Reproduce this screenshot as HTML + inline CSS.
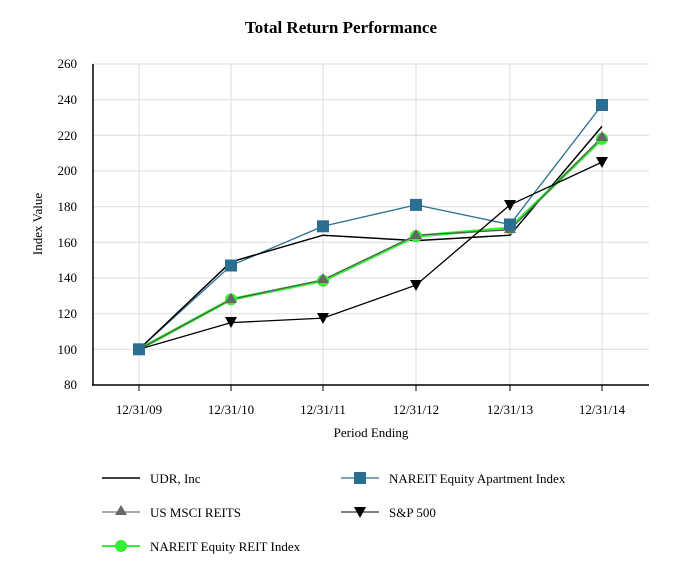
<!DOCTYPE html>
<html><head><meta charset="utf-8"><style>body{margin:0;background:#fff}svg{display:block}text{font-family:"Liberation Serif",serif}</style></head><body>
<svg width="682" height="581" viewBox="0 0 682 581">
<text x="341" y="33" text-anchor="middle" font-size="17" font-weight="bold">Total Return Performance</text>
<g stroke="#ddd" stroke-width="1">
<line x1="93" x2="649" y1="64" y2="64"/><line x1="93" x2="649" y1="99.7" y2="99.7"/><line x1="93" x2="649" y1="135.3" y2="135.3"/><line x1="93" x2="649" y1="171" y2="171"/><line x1="93" x2="649" y1="206.7" y2="206.7"/><line x1="93" x2="649" y1="242.3" y2="242.3"/><line x1="93" x2="649" y1="278" y2="278"/><line x1="93" x2="649" y1="313.7" y2="313.7"/><line x1="93" x2="649" y1="349.3" y2="349.3"/>
<line x1="139" x2="139" y1="64" y2="385"/><line x1="231" x2="231" y1="64" y2="385"/><line x1="323" x2="323" y1="64" y2="385"/><line x1="416" x2="416" y1="64" y2="385"/><line x1="510" x2="510" y1="64" y2="385"/><line x1="602" x2="602" y1="64" y2="385"/>
</g>
<g stroke="#000" stroke-width="1.5"><line x1="93" y1="64" x2="93" y2="385"/><line x1="92" y1="385" x2="649" y2="385"/></g>
<g stroke="#000"><line x1="139" x2="139" y1="385" y2="391"/><line x1="231" x2="231" y1="385" y2="391"/><line x1="323" x2="323" y1="385" y2="391"/><line x1="416" x2="416" y1="385" y2="391"/><line x1="510" x2="510" y1="385" y2="391"/><line x1="602" x2="602" y1="385" y2="391"/></g>
<g font-size="13" text-anchor="end">
<text x="77" y="68">260</text><text x="77" y="104">240</text><text x="77" y="140">220</text><text x="77" y="175">200</text><text x="77" y="211">180</text><text x="77" y="247">160</text><text x="77" y="282">140</text><text x="77" y="318">120</text><text x="77" y="354">100</text><text x="77" y="389">80</text>
</g>
<g font-size="13" text-anchor="middle">
<text x="139" y="414">12/31/09</text><text x="231" y="414">12/31/10</text><text x="323" y="414">12/31/11</text><text x="416" y="414">12/31/12</text><text x="510" y="414">12/31/13</text><text x="602" y="414">12/31/14</text>
<text x="371" y="437">Period Ending</text>
<text transform="translate(42,224) rotate(-90)">Index Value</text>
</g>
<polyline fill="none" stroke="#2a6f91" stroke-width="1.3" points="139,349.3 231,265.5 323,226.3 416,204.9 510,224.5 602,105"/>
<polyline fill="none" stroke="#000" stroke-width="1.5" points="139,349.3 231,261.9 323,235.2 416,240.6 510,235.2 602,126.4"/>
<polyline fill="none" stroke="#33ee33" stroke-width="3" points="139,349.3 231,299.4 323,280.7 416,236.1 510,228.1 602,138.9"/>
<polyline fill="none" stroke="#555" stroke-width="1.2" points="139,349.3 231,299.4 323,279.8 416,235.2 510,229.8 602,137.1"/>
<polyline fill="none" stroke="#000" stroke-width="1.3" points="139,349.3 231,322.6 323,318.1 416,285.1 510,204.9 602,162.1"/>
<g fill="#33ee33"><circle cx="231" cy="299.4" r="6"/><circle cx="323" cy="280.7" r="6"/><circle cx="416" cy="236.1" r="6"/><circle cx="510" cy="228.1" r="6"/><circle cx="602" cy="138.9" r="6"/></g>
<g fill="#666"><path d="M231,293 l6,10 h-12z"/><path d="M323,273 l6,10 h-12z"/><path d="M416,229 l6,10 h-12z"/><path d="M510,223 l6,10 h-12z"/><path d="M602,131 l6,10 h-12z"/></g>
<g fill="#000"><path d="M225,317 h12 l-6,11z"/><path d="M317,313 h12 l-6,11z"/><path d="M410,280 h12 l-6,11z"/><path d="M504,200 h12 l-6,11z"/><path d="M596,157 h12 l-6,11z"/></g>
<g fill="#2a6f91"><rect x="133" y="343.3" width="12" height="12"/><rect x="225" y="259.5" width="12" height="12"/><rect x="317" y="220.3" width="12" height="12"/><rect x="410" y="198.9" width="12" height="12"/><rect x="504" y="218.5" width="12" height="12"/><rect x="596" y="99" width="12" height="12"/></g>
<g font-size="13">
<line x1="102" x2="140" y1="478" y2="478" stroke="#000" stroke-width="1.5"/><text x="150" y="483">UDR, Inc</text>
<line x1="341" x2="379" y1="478" y2="478" stroke="#2a6f91" stroke-width="1.3"/><rect x="354" y="472" width="12" height="12" fill="#2a6f91"/><text x="389" y="483">NAREIT Equity Apartment Index</text>
<line x1="102" x2="140" y1="512" y2="512" stroke="#555"/><path d="M121,505 l6,10 h-12z" fill="#666"/><text x="150" y="517">US MSCI REITS</text>
<line x1="341" x2="379" y1="512" y2="512" stroke="#000"/><path d="M354,507 h12 l-6,11z"/><text x="389" y="517">S&amp;P 500</text>
<line x1="102" x2="140" y1="546" y2="546" stroke="#33ee33" stroke-width="2"/><circle cx="121" cy="546" r="6" fill="#33ee33"/><text x="150" y="551">NAREIT Equity REIT Index</text>
</g>
</svg>
</body></html>
